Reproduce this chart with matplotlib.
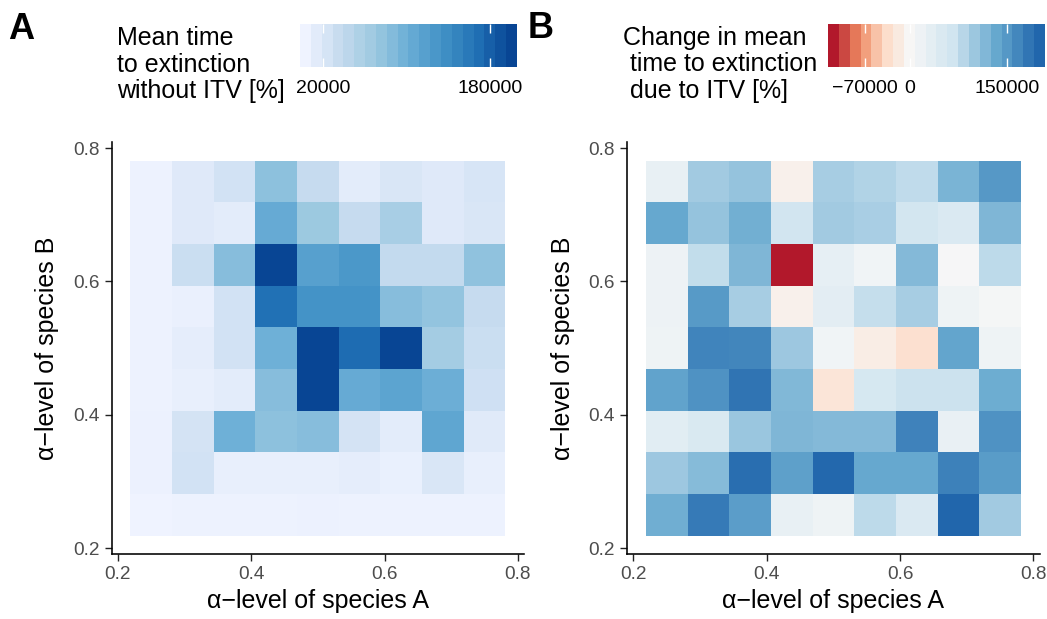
import numpy as np
import matplotlib
matplotlib.use("Agg")
import matplotlib.pyplot as plt
from matplotlib.colors import LinearSegmentedColormap, Normalize, TwoSlopeNorm
from matplotlib import ticker

plt.rcParams['font.family'] = ['Liberation Sans', 'DejaVu Sans']

# alpha levels used in the simulation grid
alpha_a = [0.25, 0.3125, 0.375, 0.4375, 0.5, 0.5625, 0.625, 0.6875, 0.75]
alpha_b = [0.25, 0.3125, 0.375, 0.4375, 0.5, 0.5625, 0.625, 0.6875, 0.75]

# mean time to extinction without ITV, rows = alpha_b (low -> high), cols = alpha_a
time_no_itv = [
    [2850, 4800, 4800, 4800, 5800, 4800, 4800, 4800, 4800],
    [5800, 26550, 8800, 8800, 8800, 10750, 7800, 20600, 8800],
    [5800, 24600, 99600, 79900, 83800, 24600, 12700, 111500, 15700],
    [4800, 8800, 12700, 83800, 200400, 105500, 113400, 101600, 28500],
    [4800, 10750, 26550, 99600, 200400, 170700, 200400, 64100, 32500],
    [4800, 6800, 26550, 166800, 133200, 133200, 83800, 75900, 36400],
    [4800, 32500, 83800, 200400, 117400, 127300, 38400, 38400, 77900],
    [4800, 16700, 12700, 105500, 70000, 36400, 60100, 16700, 20600],
    [4800, 16700, 26550, 79900, 35800, 12700, 20600, 16700, 22600],
]

# change in mean time to extinction due to ITV
time_change = [
    [126000, 178000, 144000, 26000, 16000, 79000, 50000, 199000, 95500],
    [99000, 112000, 189700, 141000, 197000, 133500, 132500, 172500, 145000],
    [38500, 52500, 99500, 117500, 113500, 113500, 170500, 24500, 154700],
    [137000, 155000, 183700, 115500, -25000, 56000, 69500, 69500, 127500],
    [16000, 168500, 166500, 99000, 12000, -14000, -32000, 136500, 16000],
    [17500, 146700, 93000, -9800, 35000, 74000, 93000, 17000, 6000],
    [17500, 76000, 117000, -118000, 30000, 12000, 115000, 2000, 79000],
    [132700, 103000, 125000, 64000, 96000, 91000, 63000, 50000, 117000],
    [26000, 95000, 103000, -9800, 93000, 87000, 77500, 121000, 148000],
]

axis_ticks = [0.2, 0.4, 0.6, 0.8]

blues = LinearSegmentedColormap.from_list(
    'blues7', ['#EFF3FF', '#C6DBEF', '#9ECAE1', '#6BAED6', '#4292C6', '#2171B5', '#084594'])
rdbu = LinearSegmentedColormap.from_list(
    'rdbu7', ['#B2182B', '#EF8A62', '#FDDBC7', '#F7F7F7', '#D1E5F0', '#67A9CF', '#2166AC'])


def edges(centers):
    c = np.asarray(centers)
    step = c[1] - c[0]
    return np.append(c - step / 2, c[-1] + step / 2)


def heatmap(ax, z, cmap, norm):
    ax.pcolormesh(edges(alpha_a), edges(alpha_b), np.asarray(z), cmap=cmap, norm=norm,
                  shading='flat', antialiased=False, linewidth=0)
    ax.set_xlim(0.190625, 0.809375)
    ax.set_ylim(0.190625, 0.809375)
    ax.set_xticks(axis_ticks)
    ax.set_yticks(axis_ticks)
    ax.xaxis.set_major_formatter(ticker.FormatStrFormatter('%.1f'))
    ax.yaxis.set_major_formatter(ticker.FormatStrFormatter('%.1f'))
    for s in ['top', 'right']:
        ax.spines[s].set_visible(False)
    for s in ['left', 'bottom']:
        ax.spines[s].set_linewidth(1.15)
        ax.spines[s].set_color('black')
    ax.tick_params(length=4.8, width=1.0, color='#222222', labelsize=13.7,
                   labelcolor='#4D4D4D')
    ax.tick_params(axis='x', pad=3.8)
    ax.tick_params(axis='y', pad=4.0)
    ax.set_xlabel('\u03b1\u2212level of species A', fontsize=18, labelpad=4)
    ax.set_ylabel('\u03b1\u2212level of species B', fontsize=18, labelpad=10)


def colourbar(cax, cmap, norm, vmin, vmax, ticks):
    # 20 bins like a ggplot colourbar, ticks sit on the bin centres
    nbin = 20
    vals = np.linspace(vmin, vmax, nbin)
    half = (vmax - vmin) / (nbin - 1) / 2
    cax.imshow(vals[np.newaxis, :], cmap=cmap, norm=norm, aspect='auto',
               extent=[vmin - half, vmax + half, 0, 1], interpolation='nearest')
    cax.set_xlim(vmin - half, vmax + half)
    cax.set_ylim(0, 1)
    cax.set_yticks([])
    cax.set_xticks(ticks)
    cax.xaxis.set_major_formatter(
        ticker.FuncFormatter(lambda v, p: f'{v:.0f}'.replace('-', '\u2212')))
    cax.tick_params(axis='x', direction='in', top=True, bottom=True, length=6.5,
                    width=1.0, color='white', labelsize=14, labelcolor='black', pad=9.5)
    for s in cax.spines.values():
        s.set_visible(False)


fig = plt.figure(figsize=(10.47, 6.19), dpi=100)

ax_a = fig.add_axes([0.10669, 0.10452, 0.39398, 0.66640])
ax_b = fig.add_axes([0.59904, 0.10452, 0.39398, 0.66640])
cax_a = fig.add_axes([0.28653, 0.89128, 0.20697, 0.06995])
cax_b = fig.add_axes([0.79083, 0.89128, 0.20697, 0.06995])

a_min, a_max = np.min(time_no_itv), np.max(time_no_itv)
norm_a = Normalize(vmin=a_min, vmax=a_max)
heatmap(ax_a, time_no_itv, blues, norm_a)
colourbar(cax_a, blues, norm_a, a_min, a_max, [20000, 180000])

b_min, b_max = np.min(time_change), np.max(time_change)
norm_b = TwoSlopeNorm(vmin=b_min, vcenter=0, vmax=b_max)
heatmap(ax_b, time_change, rdbu, norm_b)
colourbar(cax_b, rdbu, norm_b, b_min, b_max, [-70000, 0, 150000])

# legend titles, one line at a time
W, H = 1047, 619
for i, line in enumerate(['Mean time', 'to extinction', 'without ITV [%]']):
    fig.text(117 / W, 1 - (45 + 26.6 * i) / H, line, fontsize=18, va='baseline', ha='left')
for i, line in enumerate(['Change in mean', ' time to extinction', ' due to ITV [%]']):
    fig.text(622.7 / W, 1 - (44.5 + 26.6 * i) / H, line, fontsize=18, va='baseline', ha='left')

fig.text(8 / W, 1 - 39 / H, 'A', fontsize=26, fontweight='bold', va='baseline')
fig.text(528 / W, 1 - 38.5 / H, 'B', fontsize=26, fontweight='bold', va='baseline')

fig.savefig('out.png', dpi=100)
